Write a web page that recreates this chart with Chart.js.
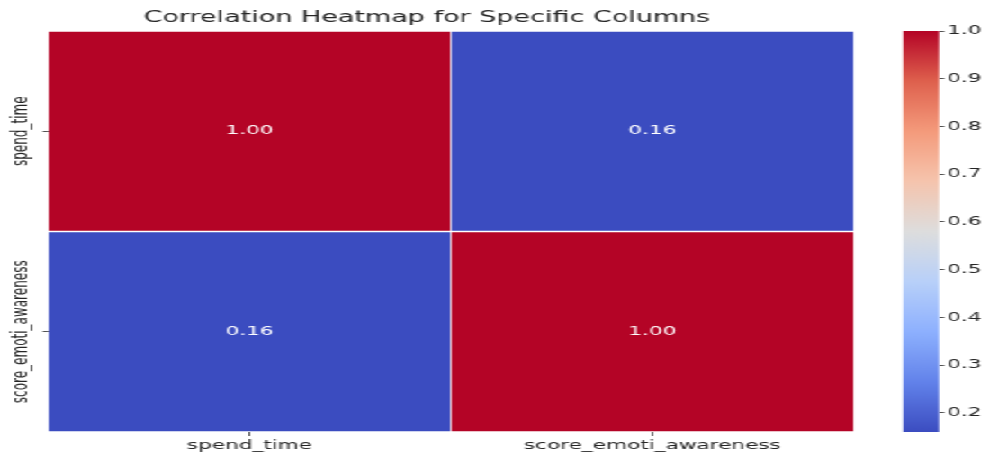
<!DOCTYPE html>
<html>
<head>
<meta charset="utf-8">
<script src="https://cdn.jsdelivr.net/npm/chart.js@4.4.1/dist/chart.umd.min.js"></script>
<style>
  html, body { margin: 0; padding: 0; background: #ffffff; overflow: hidden; }
  /* the figure is laid out narrow and widened horizontally */
  #figure { position: absolute; left: 0; top: 0; width: 550px; height: 459px;
            transform: scaleX(1.8); transform-origin: 0 0; }
  #heat { position: absolute; left: 0; top: 0; }
  #cbar { position: absolute; left: 480px; top: 0; }
</style>
</head>
<body>
<div id="figure">
  <canvas id="heat" width="500" height="459"></canvas>
  <canvas id="cbar" width="70" height="459"></canvas>
</div>
<script>
// ---- data ----
const columns = ['spend_time', 'score_emoti_awareness'];
const spendTimeCorr = [1.00, 0.16];
const emotiAwarenessCorr = [0.16, 1.00];
const colorbarTicks = [0.2, 0.3, 0.4, 0.5, 0.6, 0.7, 0.8, 0.9, 1.0];
const titleText = 'Correlation Heatmap for Specific Columns';

const corrRows = [spendTimeCorr, emotiAwarenessCorr];
const vmin = Math.min(...corrRows.flat());
const vmax = Math.max(...corrRows.flat());

// coolwarm colormap sampled at 9 evenly spaced points
const COOLWARM = [
  [59, 76, 192], [98, 130, 234], [141, 176, 254], [184, 208, 249],
  [221, 221, 221], [245, 196, 173], [244, 154, 123], [222, 96, 77], [180, 4, 38]
];
function coolwarm(t) {
  t = Math.max(0, Math.min(1, t));
  const p = t * (COOLWARM.length - 1);
  const i = Math.min(Math.floor(p), COOLWARM.length - 2);
  const f = p - i;
  const a = COOLWARM[i], b = COOLWARM[i + 1];
  const c = a.map((v, k) => Math.round(v + (b[k] - v) * f));
  return `rgb(${c[0]},${c[1]},${c[2]})`;
}
const norm = v => (v - vmin) / (vmax - vmin);

const TEXT = '#262626';
const FONT = 'DejaVu Sans';

// vertical row labels, placed at the y scale's tick positions
const rowLabels = {
  id: 'rowLabels',
  afterDraw(chart) {
    const ys = chart.scales.y;
    const ctx = chart.ctx;
    ctx.save();
    ctx.fillStyle = TEXT;
    ctx.font = `12px "${FONT}"`;
    ctx.textAlign = 'center';
    ctx.textBaseline = 'middle';
    columns.forEach((name, r) => {
      const y = ys.getPixelForValue(r + 0.5);
      ctx.save();
      ctx.translate(11.5, y);
      ctx.rotate(-Math.PI / 2);
      ctx.fillText(name, 0, 0);
      ctx.restore();
    });
    ctx.restore();
  }
};

// correlation value written in the middle of each cell
const cellValues = {
  id: 'cellValues',
  afterDatasetsDraw(chart) {
    const ctx = chart.ctx;
    ctx.save();
    ctx.fillStyle = '#ffffff';
    ctx.font = `12px "${FONT}"`;
    ctx.textAlign = 'center';
    ctx.textBaseline = 'middle';
    chart.data.datasets.forEach((ds, r) => {
      chart.getDatasetMeta(r).data.forEach((bar, j) => {
        const { x, y, base } = bar.getProps(['x', 'y', 'base'], true);
        ctx.fillText(corrRows[r][j].toFixed(2), x, (y + base) / 2);
      });
    });
    ctx.restore();
  }
};

// ---- heatmap: one floating bar per cell ----
new Chart(document.getElementById('heat'), {
  type: 'bar',
  data: {
    labels: columns,
    datasets: corrRows.map((row, r) => ({
      label: columns[r],
      data: row.map(() => [r, r + 1]),
      backgroundColor: row.map(v => coolwarm(norm(v))),
      borderColor: '#ffffff',
      borderWidth: { top: 1, bottom: 1, left: 0.6, right: 0.6 },
      borderSkipped: false,
      barPercentage: 1,
      categoryPercentage: 1,
      grouped: false
    }))
  },
  options: {
    responsive: false,
    animation: false,
    devicePixelRatio: 1,
    layout: { padding: { left: 0, right: 25.6, top: 0, bottom: 0 } },
    plugins: {
      legend: { display: false },
      tooltip: { enabled: false },
      title: {
        display: true,
        text: titleText,
        color: TEXT,
        font: { family: FONT, size: 15, weight: 'normal' },
        padding: { top: 9.5, bottom: 3.5 }
      }
    },
    scales: {
      x: {
        type: 'category',
        offset: true,
        grid: { drawOnChartArea: false, offset: false, tickLength: 4, color: TEXT, lineWidth: 0.8 },
        border: { display: false },
        ticks: { color: TEXT, font: { family: FONT, size: 12 }, padding: 3, maxRotation: 0, minRotation: 0 },
        afterFit(s) { s.height = 27; }
      },
      y: {
        type: 'linear',
        min: 0,
        max: 2,
        reverse: true,
        afterBuildTicks(s) { s.ticks = columns.map((_, i) => ({ value: i + 0.5 })); },
        ticks: { display: false },
        grid: { drawOnChartArea: false, tickLength: 3, color: TEXT, lineWidth: 0.8 },
        border: { display: false },
        afterFit(s) { s.width = 26.7; }
      }
    }
  },
  plugins: [rowLabels, cellValues]
});

// ---- colorbar ----
new Chart(document.getElementById('cbar'), {
  type: 'bar',
  data: {
    labels: [''],
    datasets: [{
      data: [[vmin, vmax]],
      backgroundColor(ctx) {
        const c = ctx.chart;
        const ys = c.scales.y;
        if (!ys || !c.chartArea) return 'transparent';
        const g = c.ctx.createLinearGradient(0, ys.getPixelForValue(vmax), 0, ys.getPixelForValue(vmin));
        for (let i = 0; i <= 32; i++) {
          const t = i / 32;
          g.addColorStop(t, coolwarm(1 - t));
        }
        return g;
      },
      borderWidth: 0,
      barPercentage: 1,
      categoryPercentage: 1
    }]
  },
  options: {
    responsive: false,
    animation: false,
    devicePixelRatio: 1,
    layout: { padding: { left: 21.7, top: 31, bottom: 27, right: 0 } },
    plugins: { legend: { display: false }, tooltip: { enabled: false } },
    scales: {
      x: { display: false },
      y: {
        position: 'right',
        min: vmin,
        max: vmax,
        afterBuildTicks(s) { s.ticks = colorbarTicks.map(v => ({ value: v })); },
        ticks: { color: TEXT, font: { family: FONT, size: 12 }, padding: 1.5, callback: v => v.toFixed(1) },
        grid: { drawOnChartArea: false, tickLength: 3, color: TEXT, lineWidth: 0.8 },
        border: { display: false },
        afterFit(s) { s.width = 28.3; }
      }
    }
  }
});
</script>
</body>
</html>
